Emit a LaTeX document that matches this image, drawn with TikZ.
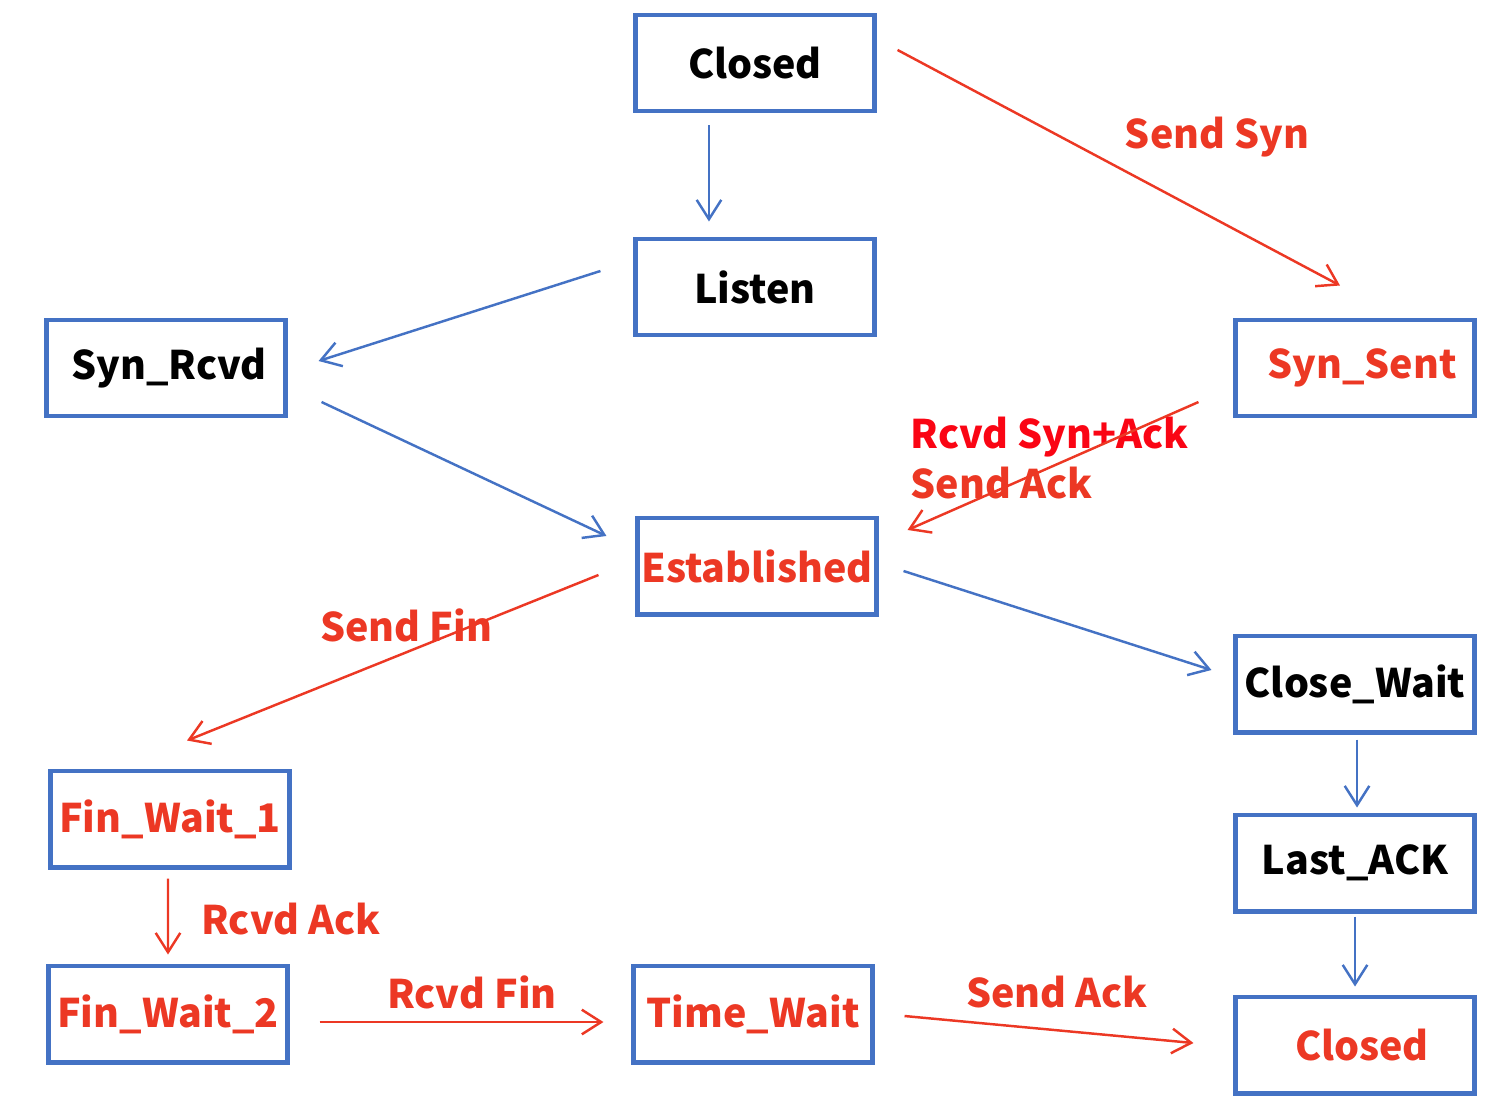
\documentclass[tikz,border=0pt]{standalone}
\usepackage{fontspec}
\setmainfont{Noto Sans CJK SC}
\usepackage{xcolor}
\usepackage{tikz}
\usetikzlibrary{arrows.meta, positioning}
\definecolor{tcpblue}{RGB}{68,114,196}
\definecolor{tcpred}{RGB}{236,56,36}
\definecolor{tcpbright}{RGB}{250,5,20}

\begin{document}
\begin{tikzpicture}[x=0.01cm, y=-0.01cm,
    state/.style={rectangle, draw=tcpblue, line width=1.4pt, minimum width=2.38cm, minimum height=0.96cm, inner sep=0pt, align=center, font=\fontsize{11.2}{13.5}\selectfont\bfseries},
    lbl/.style={text=tcpred, font=\fontsize{11.2}{14}\selectfont\bfseries, inner sep=0pt},
    arrow/.style={-{Straight Barb[length=5.5pt, width=7pt]}, line width=0.7pt, tcpblue},
    redarrow/.style={arrow, tcpred},
]
\useasboundingbox (0,0) rectangle (1510,1118);

\node[state] (closed) at (755,63) {Closed};
\node[state] (listen) at (755,287) {Listen};
\node[state] (synrcvd) at (166,368) {\hspace{0.06cm}Syn\_Rcvd};
\node[state, text=tcpred] (synsent) at (1355,368) {\hspace{0.14cm}Syn\_Sent};
\node[state, text=tcpred] (estab) at (757,566) {Established};
\node[state] (closewait) at (1355,684) {Close\_Wait};
\node[state, text=tcpred] (finwait1) at (170,819) {Fin\_Wait\_1};
\node[state] (lastack) at (1355,863) {Last\_ACK};
\node[state, text=tcpred] (finwait2) at (168,1014) {Fin\_Wait\_2};
\node[state, text=tcpred] (timewait) at (753,1014) {Time\_Wait};
\node[state, text=tcpred] (closed2) at (1355,1045) {\hspace{0.14cm}Closed};

\node[lbl] (sendsyn) at (1217,137) {Send Syn};
\node[lbl, anchor=west, align=left] (synack) at (910,458) {\textcolor{tcpbright}{Rcvd Syn+Ack}\\Send Ack};
\node[lbl] (sendfin) at (406,625) {Send Fin};
\node[lbl] (rcvdack) at (291,919) {Rcvd Ack};
\node[lbl] (rcvdfin) at (472,992) {Rcvd Fin};
\node[lbl] (sendack) at (1057,992) {Send Ack};

\draw[arrow] ([xshift=-0.46cm, yshift=-0.12cm]closed.south) -- ([xshift=-0.46cm, yshift=0.15cm]listen.north);
\draw[redarrow] ([xshift=0.21cm, yshift=0.13cm]closed.east) -- ([xshift=-0.15cm, yshift=0.32cm]synsent.north);
\draw[arrow] ([xshift=-0.33cm, yshift=0.16cm]listen.west) -- ([xshift=0.31cm, yshift=0.07cm]synrcvd.east);
\draw[arrow] ([xshift=0.34cm, yshift=-0.34cm]synrcvd.east) -- ([xshift=-0.29cm, yshift=0.30cm]estab.west);
\draw[redarrow] ([xshift=-0.35cm, yshift=-0.34cm]synsent.west) -- ([xshift=0.29cm, yshift=0.36cm]estab.east);
\draw[redarrow] ([xshift=-0.37cm, yshift=-0.09cm]estab.west) -- ([xshift=0.17cm, yshift=0.28cm]finwait1.north);
\draw[arrow] ([xshift=0.25cm, yshift=-0.05cm]estab.east) -- ([xshift=-0.22cm, yshift=0.14cm]closewait.west);
\draw[arrow] ([xshift=0.02cm, yshift=-0.05cm]closewait.south) -- ([xshift=0.02cm, yshift=0.05cm]lastack.north);
\draw[arrow] ([yshift=-0.03cm]lastack.south) -- ([yshift=0.08cm]closed2.north);
\draw[redarrow] ([xshift=-0.02cm, yshift=-0.09cm]finwait1.south) -- ([yshift=0.09cm]finwait2.north);
\draw[redarrow] ([xshift=0.30cm, yshift=-0.08cm]finwait2.east) -- ([xshift=-0.28cm, yshift=-0.08cm]timewait.west);
\draw[redarrow] ([xshift=0.30cm, yshift=-0.02cm]timewait.east) -- ([xshift=-0.40cm, yshift=0.02cm]closed2.west);
\end{tikzpicture}
\end{document}
